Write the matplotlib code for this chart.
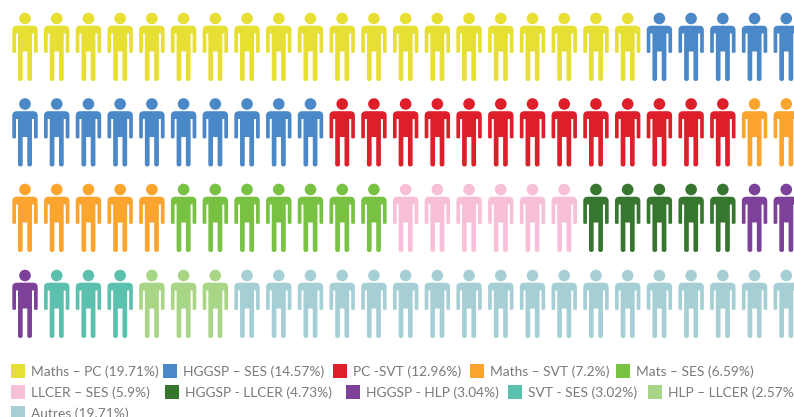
import numpy as np
import matplotlib
matplotlib.use("Agg")
import matplotlib.pyplot as plt
from matplotlib.path import Path
from matplotlib.patches import Rectangle

categories = ["Maths – PC", "HGGSP – SES", "PC -SVT", "Maths – SVT", "Mats – SES",
              "LLCER – SES", "HGGSP - LLCER", "HGGSP - HLP", "SVT - SES", "HLP – LLCER", "Autres"]
percent_labels = ["19.71", "14.57", "12.96", "7.2", "6.59", "5.9", "4.73", "3.04", "3.02", "2.57", "19.71"]
icon_counts = [20, 15, 13, 7, 7, 6, 5, 3, 3, 3, 18]
colors = ["#E8DF34", "#4A88C7", "#DD1F2B", "#FBA52E", "#78C143", "#F8BFD9",
          "#36762F", "#7D4199", "#5CC0AE", "#A9D586", "#A6CFD5"]

W, H = 794, 417
COLS = 25
X0, DX = 25.0, 31.72
ROW_Y = [47.0, 132.5, 218.0, 304.0]

legend_swatch_x = [11, 163, 333, 470, 616, 11, 165, 346, 508, 648, 11]
legend_y = [371, 371, 371, 371, 371, 392, 392, 392, 392, 392, 413]

fig = plt.figure(figsize=(W / 100, H / 100), dpi=100)
ax = fig.add_axes([0, 0, 1, 1])
ax.set_xlim(0, W)
ax.set_ylim(H, 0)
ax.axis("off")


def person_marker():
    """Pictogram in px relative to its centre, y pointing up."""
    r = 2.2
    body = [
        (-8.0, 21.3), (8.0, 21.3), (12.7, 21.3), (12.7, 17.0),
        (12.7, -5.0), (12.7, -5.9), (10.8, -5.9), (9.0, -5.9), (9.0, -5.0),
        (9.0, 13.5), (7.0, 13.5), (7.0, -32.0), (7.0, -34.0), (4.6, -34.0),
        (2.3, -34.0), (2.3, -32.0), (2.3, -4.5), (-2.3, -4.5),
        (-2.3, -32.0), (-2.3, -34.0), (-4.6, -34.0), (-7.0, -34.0), (-7.0, -32.0),
        (-7.0, 13.5), (-9.0, 13.5), (-9.0, -5.0), (-9.0, -5.9), (-10.8, -5.9),
        (-12.7, -5.9), (-12.7, -5.0), (-12.7, 17.0), (-12.7, 21.3), (-8.0, 21.3),
    ]
    L, C = Path.LINETO, Path.CURVE3
    codes = [Path.MOVETO, L, C, C, L, C, C, C, C, L, L, L, C, C, C, C, L, L,
             L, C, C, C, C, L, L, L, C, C, C, C, L, C, C]
    body_path = Path(body, codes)
    head = Path.circle((0, 28.5), 5.8)
    return Path.make_compound_path(body_path, head)


marker = person_marker()
extent = np.abs(marker.vertices).max()
size_pt = 2 * extent * 72 / 100
icon_colors = np.repeat(colors, icon_counts)
idx = np.arange(icon_colors.size)
ax.scatter(X0 + (idx % COLS) * DX, np.take(ROW_Y, idx // COLS), s=size_pt ** 2,
           marker=marker, c=list(icon_colors), linewidths=0, clip_on=False)

for name, pct, col, sx, ly in zip(categories, percent_labels, colors, legend_swatch_x, legend_y):
    ax.add_patch(Rectangle((sx, ly - 7), 14, 14, facecolor=col, edgecolor="none"))
    ax.text(sx + 20, ly + 0.5, f"{name} ({pct}%)", family="Lato", fontsize=9.9,
            color="#7A7A7A", va="center", ha="left")

fig.savefig("out.png", dpi=100)
